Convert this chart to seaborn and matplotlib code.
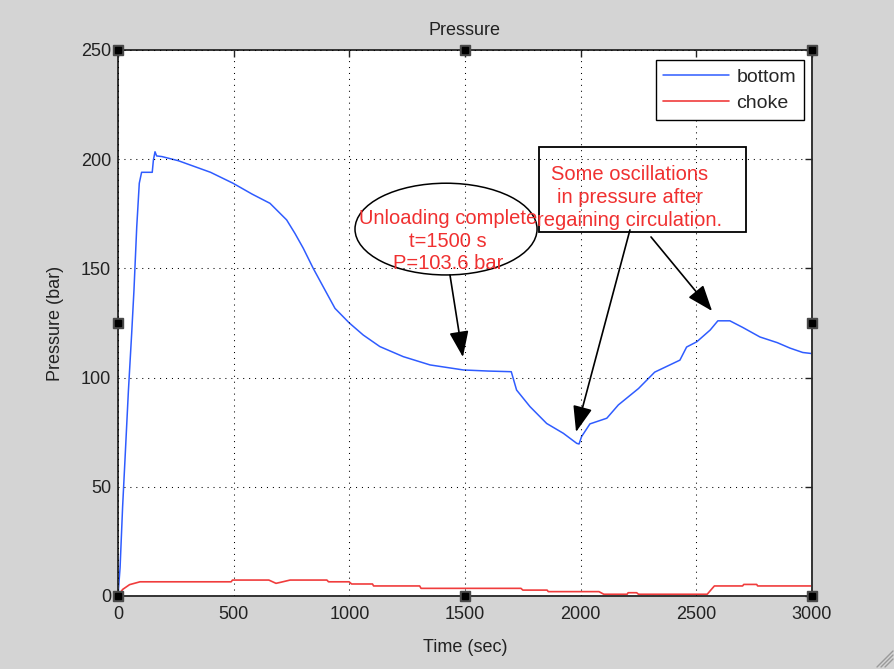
import matplotlib
matplotlib.use("Agg")
import matplotlib.pyplot as plt
import seaborn as sns
import pandas as pd
from matplotlib.patches import Ellipse, Rectangle
from matplotlib.lines import Line2D

# ---- data ----
bottom_t = [0, 9, 20, 30, 45, 59, 69, 81, 92, 102, 148, 153, 160, 167, 190, 261, 400, 497, 580, 657,
            729, 765, 801, 844, 887, 938, 999, 1060, 1132, 1233, 1349, 1493, 1600, 1700, 1723, 1781,
            1853, 1925, 1983, 1993, 2004, 2040, 2113, 2163, 2250, 2320, 2429, 2458, 2502, 2560,
            2593, 2645, 2700, 2775, 2850, 2905, 2960, 3000]
bottom_p = [0, 13, 41, 62, 94, 120, 140, 169, 189, 194, 194, 199.6, 203.4, 201.5, 201.2, 199.3, 194, 189, 184, 179.8,
            172.2, 166, 159.2, 150, 141.6, 131.7, 125.1, 119.5, 114.2, 109.6, 105.8, 103.5, 103, 102.7, 94.3, 86.7,
            79, 74.5, 69.9, 69.6, 73, 78.8, 81.4, 87.5, 95, 102.5, 108, 114, 116.4, 121.8,
            126, 126, 123, 118.6, 116, 113.5, 111.5, 111]

choke_t = [0, 20, 50, 95, 489, 495, 652, 683, 700, 744, 903, 910, 999, 1010, 1100, 1105, 1304, 1310,
           1742, 1750, 1855, 1860, 2079, 2100, 2201, 2205, 2242, 2250, 2547, 2578, 2700, 2705, 2761, 2765, 3000]
choke_p = [0, 3.0, 5.2, 6.5, 6.5, 7.3, 7.3, 5.8, 6.2, 7.3, 7.3, 6.5, 6.5, 5.5, 5.5, 4.6, 4.6, 3.5,
           3.5, 2.7, 2.7, 2.0, 2.0, 0.8, 0.8, 1.5, 1.5, 0.8, 0.8, 4.6, 4.6, 5.3, 5.3, 4.6, 4.6]

series_names = ["bottom", "choke"]
x_ticks = [0, 500, 1000, 1500, 2000, 2500, 3000]
y_ticks = [0, 50, 100, 150, 200, 250]

title = "Pressure"
xlabel = "Time (sec)"
ylabel = "Pressure (bar)"
ellipse_text = "Unloading complete\nt=1500 s\nP=103.6 bar"
box_text = "Some oscillations\nin pressure after\nregaining circulation."

df_b = pd.DataFrame({"t": bottom_t, "p": bottom_p})
df_c = pd.DataFrame({"t": choke_t, "p": choke_p})

# ---- styling ----
sns.set_style("white")
plt.rcParams["font.family"] = ["Liberation Sans", "DejaVu Sans"]
FS = 13
FS_ANN = 14.5
BG = "#d4d4d4"
BLUE = "#2f5cff"
RED = "#f03c3c"
TXT_RED = "#f03030"

fig = plt.figure(figsize=(8.95, 6.69), dpi=100, facecolor=BG)
ax = fig.add_axes([118 / 895, 1 - 596 / 669, 694 / 895, 546 / 669])
ax.set_facecolor("white")

sns.lineplot(data=df_b, x="t", y="p", ax=ax, color=BLUE, lw=1.1, sort=False,
             estimator=None, label=series_names[0])
sns.lineplot(data=df_c, x="t", y="p", ax=ax, color=RED, lw=1.2, sort=False,
             estimator=None, label=series_names[1])

ax.set_xlim(0, 3000)
ax.set_ylim(0, 250)
ax.set_xticks(x_ticks)
ax.set_yticks(y_ticks)
ax.set_xticklabels([str(v) for v in x_ticks], fontsize=FS, color="#222222")
ax.set_yticklabels([str(v) for v in y_ticks], fontsize=FS, color="#222222")
ax.tick_params(direction="in", length=5, width=1, top=True, right=True, colors="#222222")
ax.tick_params(axis="x", pad=7)
ax.tick_params(axis="y", pad=5)
for s in ax.spines.values():
    s.set_visible(True)
    s.set_color("#333333")
    s.set_linewidth(1.4)

ax.grid(True, color="black", linestyle=(0, (1, 4.7)), lw=0.75)
ax.set_axisbelow(False)

ax.set_title(title, fontsize=FS, pad=11, color="#222222")
ax.set_xlabel(xlabel, fontsize=FS, labelpad=12, color="#222222")
ax.set_ylabel(ylabel, fontsize=FS, labelpad=12, color="#222222")

leg = ax.legend(loc="upper right", bbox_to_anchor=(0.988, 0.981), borderaxespad=0,
                fontsize=14, frameon=True, fancybox=False, handlelength=3.4,
                handletextpad=0.35, labelspacing=0.45, borderpad=0.4)
leg.get_frame().set_edgecolor("black")
leg.get_frame().set_linewidth(1.0)
leg.get_frame().set_facecolor("white")
leg.get_frame().set_alpha(1)

# ---- annotations ----
ell = Ellipse((1418, 168), width=787, height=42, facecolor="none", edgecolor="black", lw=1.1, zorder=5)
ax.add_patch(ell)
ax.text(1427, 162.5, ellipse_text, ha="center", va="center", fontsize=FS_ANN, color=TXT_RED,
        linespacing=1.25, zorder=6)

rect = Rectangle((1820, 166.7), 2715 - 1820, 205.6 - 166.7, facecolor="none",
                 edgecolor="black", lw=1.3, zorder=5)
ax.add_patch(rect)
ax.text(2213, 182.5, box_text, ha="center", va="center", fontsize=FS_ANN, color=TXT_RED,
        linespacing=1.25, zorder=6)

arrow_style = dict(arrowstyle="-|>,head_length=0.8,head_width=0.3", color="black", lw=1.2,
                   shrinkA=0, shrinkB=0, mutation_scale=20)
for head, tail in [((1491, 109.4), (1435, 147)),
                   ((1980, 75.1), (2213, 167.6)),
                   ((2568, 130.5), (2304, 164.4))]:
    ax.annotate("", xy=head, xytext=tail, arrowprops=arrow_style, zorder=7)

# selection handles (MATLAB edit mode)
for hx, hy in [(0, 0), (0.5, 0), (1, 0), (0, 0.5), (1, 0.5), (0, 1), (0.5, 1), (1, 1)]:
    ax.plot([hx], [hy], marker="s", ms=7.5, color="#4a4a4a", mec="#4a4a4a",
            transform=ax.transAxes, clip_on=False, zorder=10)
    ax.plot([hx], [hy], marker="s", ms=4, color="black", mec="black",
            transform=ax.transAxes, clip_on=False, zorder=11)

# window resize grip
for k in range(3):
    off = 4 * k
    fig.add_artist(Line2D([(885 - off) / 895, 893 / 895], [2 / 669, (10 + off) / 669],
                          color="#9a9a9a", lw=1.0, transform=fig.transFigure))

fig.savefig("out.png", dpi=100, facecolor=BG)
